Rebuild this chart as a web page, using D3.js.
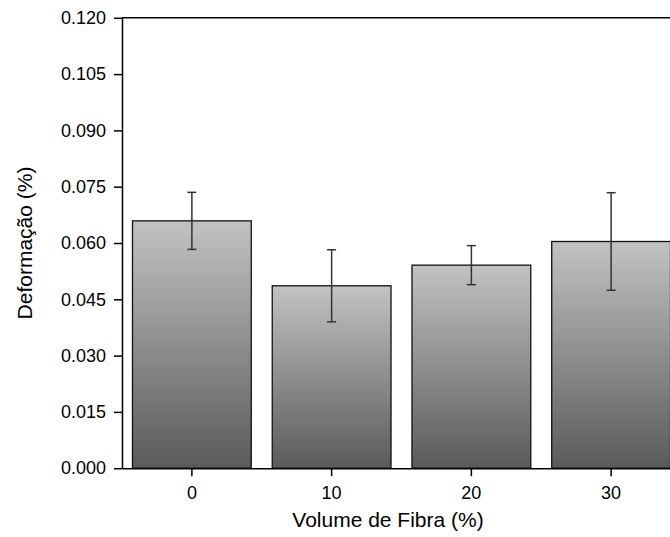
<!DOCTYPE html>
<html>
<head>
<meta charset="utf-8">
<script src="https://cdn.jsdelivr.net/npm/d3@7"></script>
<style>
  body { margin: 0; background: #fff; }
  svg { display: block; font-family: "Liberation Sans", Arial, sans-serif; }
</style>
</head>
<body>
<div id="chart"></div>
<script>
// data
var categories = ["0", "10", "20", "30"];
var values = [0.0659, 0.0486, 0.0541, 0.0604];
var errors = [0.0076, 0.0096, 0.0052, 0.0130];
var yTicks = [0, 0.015, 0.030, 0.045, 0.060, 0.075, 0.090, 0.105, 0.120];

var W = 670, H = 537;
var mLeft = 122, mTop = 17.8, mBottom = 468.2, mRight = 681;

var svg = d3.select("#chart").append("svg").attr("width", W).attr("height", H);

var x = d3.scaleBand().domain(categories).range([mLeft, mRight]).paddingInner(0.15).paddingOuter(0.075);
var y = d3.scaleLinear().domain([0, 0.12]).range([mBottom, mTop]);

// gradient for bars
var grad = svg.append("defs").append("linearGradient")
    .attr("id", "barGrad").attr("x1", 0).attr("y1", 0).attr("x2", 0).attr("y2", 1);
grad.append("stop").attr("offset", "0%").attr("stop-color", "#c2c2c2");
grad.append("stop").attr("offset", "100%").attr("stop-color", "#5a5a5a");

// bars
svg.selectAll("rect.bar").data(values).enter().append("rect")
    .attr("class", "bar")
    .attr("x", function(d, i) { return x(categories[i]); })
    .attr("y", function(d) { return y(d); })
    .attr("width", x.bandwidth())
    .attr("height", function(d) { return y(0) - y(d); })
    .attr("fill", "url(#barGrad)")
    .attr("stroke", "#111")
    .attr("stroke-width", 1.3);

// error bars
var cap = 4.5;
var eb = svg.selectAll("g.err").data(values).enter().append("g").attr("class", "err")
    .attr("stroke", "#333").attr("stroke-width", 1.5);
eb.append("line")
    .attr("x1", function(d, i) { return x(categories[i]) + x.bandwidth() / 2; })
    .attr("x2", function(d, i) { return x(categories[i]) + x.bandwidth() / 2; })
    .attr("y1", function(d, i) { return y(d + errors[i]); })
    .attr("y2", function(d, i) { return y(d - errors[i]); });
eb.append("line")
    .attr("x1", function(d, i) { return x(categories[i]) + x.bandwidth() / 2 - cap; })
    .attr("x2", function(d, i) { return x(categories[i]) + x.bandwidth() / 2 + cap; })
    .attr("y1", function(d, i) { return y(d + errors[i]); })
    .attr("y2", function(d, i) { return y(d + errors[i]); });
eb.append("line")
    .attr("x1", function(d, i) { return x(categories[i]) + x.bandwidth() / 2 - cap; })
    .attr("x2", function(d, i) { return x(categories[i]) + x.bandwidth() / 2 + cap; })
    .attr("y1", function(d, i) { return y(d - errors[i]); })
    .attr("y2", function(d, i) { return y(d - errors[i]); });

// top frame line
svg.append("line")
    .attr("x1", mLeft).attr("x2", mRight).attr("y1", y(0.12)).attr("y2", y(0.12))
    .attr("stroke", "#000").attr("stroke-width", 1.5);

// axes
var yAxis = svg.append("g").attr("transform", "translate(" + mLeft + ",0)")
    .call(d3.axisLeft(y).tickValues(yTicks).tickFormat(d3.format(".3f")).tickSize(8).tickPadding(8).tickSizeOuter(0));
var xAxis = svg.append("g").attr("transform", "translate(0," + mBottom + ")")
    .call(d3.axisBottom(x).tickSize(8).tickPadding(10).tickSizeOuter(0));

[yAxis, xAxis].forEach(function(a) {
    a.selectAll("path, line").attr("stroke", "#000").attr("stroke-width", 1.5);
    a.selectAll("text").attr("font-size", 18).attr("fill", "#000")
        .attr("font-family", "'Liberation Sans', Arial, sans-serif");
});

// axis titles
svg.append("text")
    .attr("x", 388).attr("y", 527)
    .attr("text-anchor", "middle").attr("font-size", 21)
    .text("Volume de Fibra (%)");
svg.append("text")
    .attr("transform", "translate(32," + 243 + ") rotate(-90)")
    .attr("text-anchor", "middle").attr("font-size", 21)
    .text("Deformação (%)");
</script>
</body>
</html>
